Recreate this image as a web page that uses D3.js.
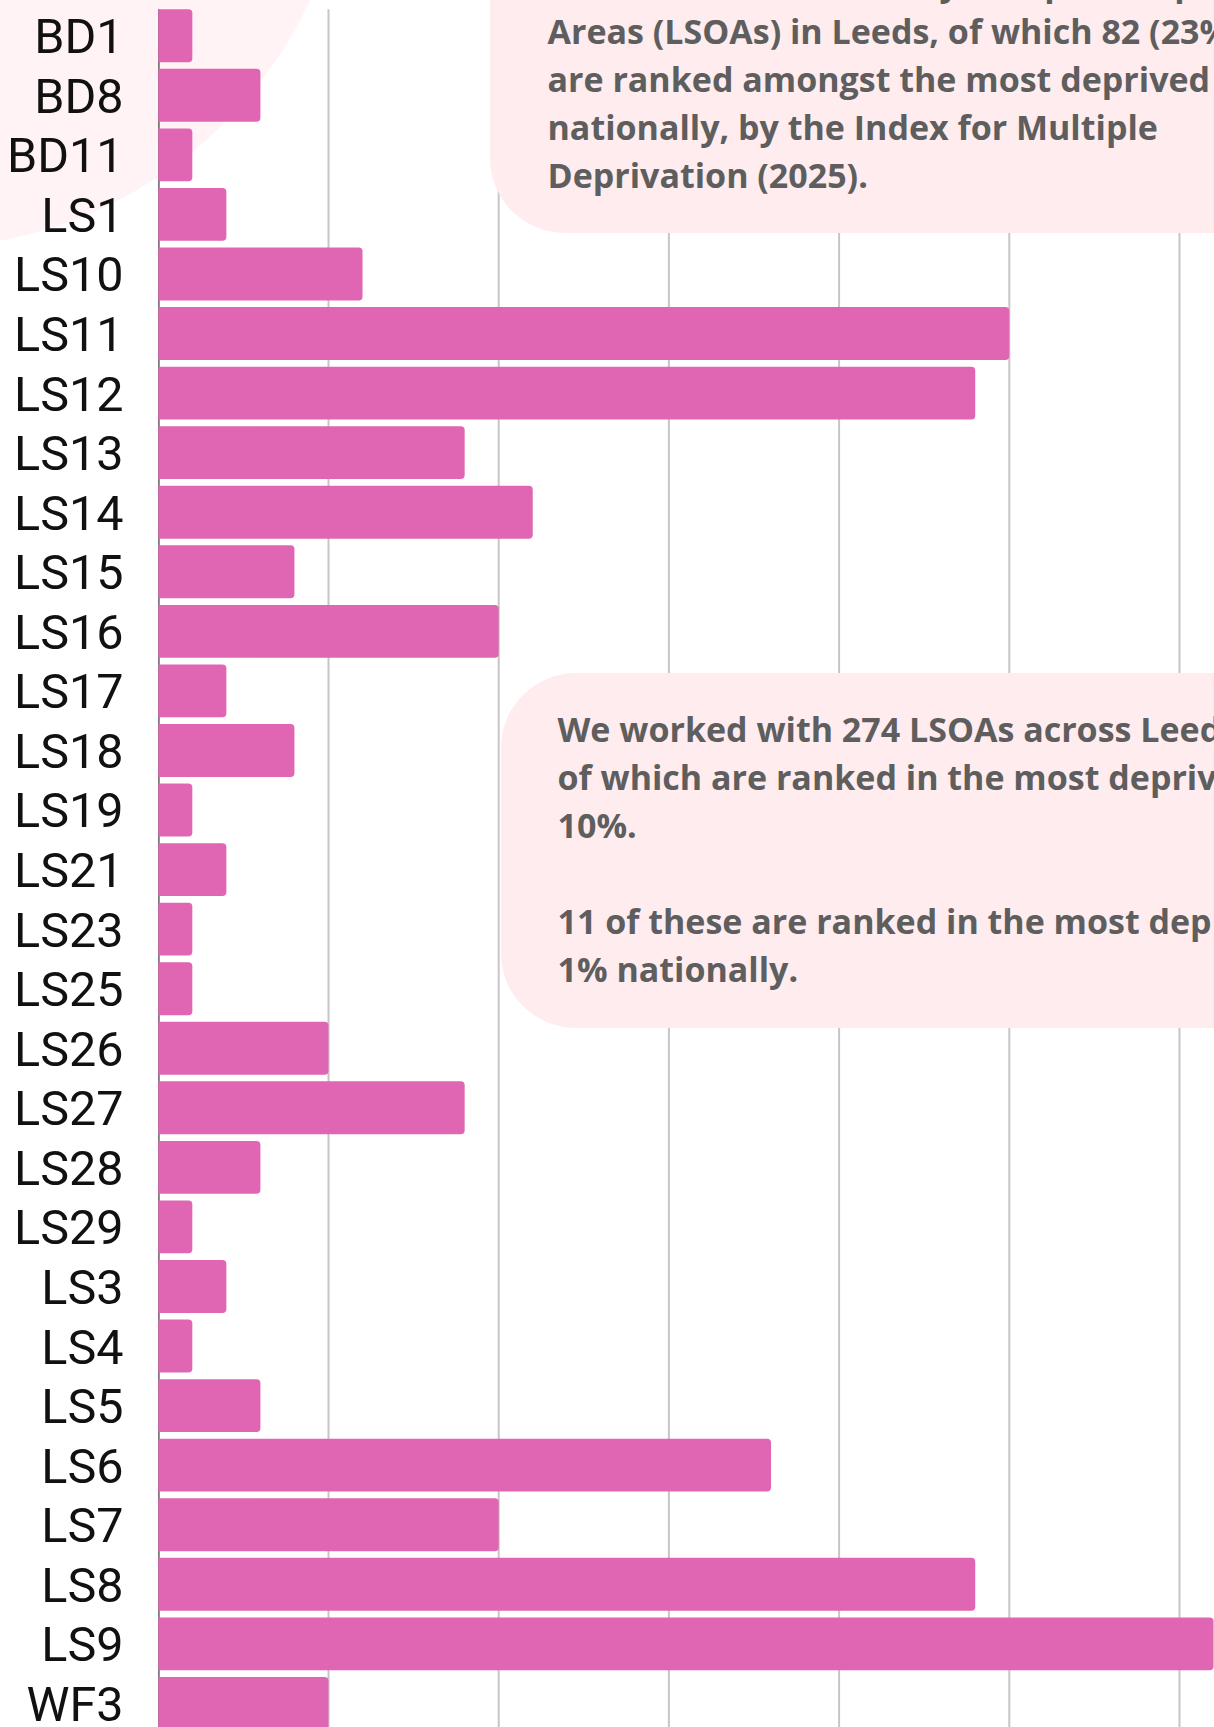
<!DOCTYPE html>
<html>
<head>
<meta charset="utf-8">
<script src="https://cdn.jsdelivr.net/npm/d3@7"></script>
<style>
  html, body { margin: 0; padding: 0; background: #fff; overflow: hidden; }
  svg { display: block; }
</style>
</head>
<body>
<svg id="chart" width="1214" height="1727"></svg>
<script>
// postcodes and number of LSOAs worked with in each
const categories = ["BD1", "BD8", "BD11", "LS1", "LS10", "LS11", "LS12", "LS13", "LS14", "LS15",
    "LS16", "LS17", "LS18", "LS19", "LS21", "LS23", "LS25", "LS26", "LS27", "LS28",
    "LS29", "LS3", "LS4", "LS5", "LS6", "LS7", "LS8", "LS9", "WF3"]
const counts = [1, 3, 1, 2, 6, 25, 24, 9, 11, 4,
    10, 2, 4, 1, 2, 1, 1, 5, 9, 3,
    1, 2, 1, 3, 18, 10, 24, 31, 5]
const tickValues = [5, 10, 15, 20, 25, 30]

const topNote = [
    "There are 357 Lower Layer Super Output",
    "Areas (LSOAs) in Leeds, of which 82 (23%)",
    "are ranked amongst the most deprived 10%",
    "nationally, by the Index for Multiple",
    "Deprivation (2025)."
]
const midNote = [
    "We worked with 274 LSOAs across Leeds,",
    "of which are ranked in the most deprived",
    "10%.",
    "",
    "11 of these are ranked in the most deprived",
    "1% nationally."
]

const svg = d3.select("#chart")
const width = +svg.attr("width")
const height = +svg.attr("height")

const barColor = "#e066b3"
const step = 59.56

const x = d3.scaleLinear().domain([0, 30]).range([158.3, 1179.5])
const y = d3.scaleBand()
    .domain(categories)
    .range([5.95, 5.95 + categories.length * step])
    .paddingInner(0.112)
    .paddingOuter(0.056)

// soft pink circle behind the top-left labels
svg.append("circle")
    .attr("cx", -78).attr("cy", -180).attr("r", 428)
    .attr("fill", "#fff3f5")

// gridlines
svg.append("g")
    .selectAll("line")
    .data(tickValues)
    .join("line")
    .attr("x1", d => x(d)).attr("x2", d => x(d))
    .attr("y1", y(categories[0])).attr("y2", height)
    .attr("stroke", "#c6c6c6")
    .attr("stroke-width", 2)

// zero axis line
svg.append("line")
    .attr("x1", x(0) + 0.6).attr("x2", x(0) + 0.6)
    .attr("y1", y(categories[0])).attr("y2", height)
    .attr("stroke", "#555")
    .attr("stroke-width", 1.4)

// bars, rounded on the right end only
function barPath(x0, x1, top, h, r) {
    r = Math.min(r, (x1 - x0) / 2)
    return `M${x0},${top}H${x1 - r}Q${x1},${top} ${x1},${top + r}` +
        `V${top + h - r}Q${x1},${top + h} ${x1 - r},${top + h}H${x0}Z`
}

svg.append("g")
    .selectAll("path")
    .data(categories)
    .join("path")
    .attr("d", (d, i) => barPath(x(0), x(counts[i]), y(d), y.bandwidth(), 4))
    .attr("fill", barColor)

// category labels
svg.append("g")
    .selectAll("text")
    .data(categories)
    .join("text")
    .attr("x", 123.5)
    .attr("y", d => y(d) + y.bandwidth() / 2)
    .attr("dy", "0.36em")
    .attr("text-anchor", "end")
    .attr("font-family", "Roboto, 'DejaVu Sans', sans-serif")
    .attr("font-size", 48.5)
    .attr("fill", "#111")
    .text(d => d)

// note boxes
function noteBox(bx, by, bw, bh, tx, firstBaseline, lines) {
    const g = svg.append("g")
    g.append("rect")
        .attr("x", bx).attr("y", by)
        .attr("width", bw).attr("height", bh)
        .attr("rx", 75).attr("ry", 75)
        .attr("fill", "#feecef")
    g.selectAll("text")
        .data(lines)
        .join("text")
        .attr("x", tx)
        .attr("y", (d, i) => firstBaseline + i * 48)
        .attr("font-family", "'Open Sans', sans-serif")
        .attr("font-weight", 700)
        .attr("font-size", 34)
        .attr("fill", "#5e5e5e")
        .text(d => d)
}

noteBox(490, -200, 900, 433, 547.5, 43.5 - 48, topNote)
noteBox(501, 673, 900, 355, 557.5, 741.5, midNote)
</script>
</body>
</html>
